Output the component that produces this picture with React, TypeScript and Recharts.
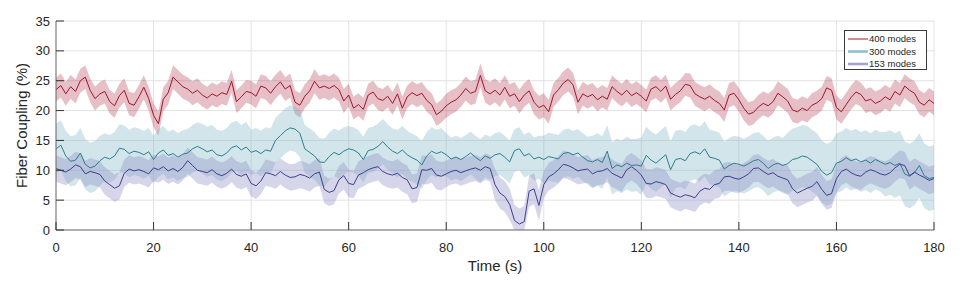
import React from 'react';
import { ComposedChart, Line, Area, XAxis, YAxis, CartesianGrid, Legend } from 'recharts';

// Mean fiber coupling (%) sampled once per second, t = 0..180 s
const modes400 = [
  23.5, 24.2, 22.8, 24.0, 23.2, 25.0, 25.6, 23.4, 22.0, 22.8,
  23.2, 21.5, 20.8, 22.5, 23.4, 21.2, 20.9, 22.3, 23.9, 22.0,
  19.2, 17.8, 21.9, 23.0, 25.6, 24.8, 24.0, 23.6, 22.9, 23.4,
  22.6, 22.1, 22.8, 22.4, 23.0, 22.7, 24.9, 21.5, 22.3, 23.2,
  23.0, 22.4, 24.1, 23.8, 22.9, 24.0, 24.8, 23.6, 24.2, 21.4,
  20.9, 22.4, 23.3, 24.9, 23.8, 24.1, 23.7, 24.2, 23.5, 21.6,
  22.6, 20.4, 21.0, 20.2, 22.6, 23.1, 22.0, 21.7, 22.4, 21.2,
  22.8, 20.4, 22.3, 23.0, 22.5, 22.9, 21.7, 21.0, 19.3, 19.9,
  20.8, 21.4, 21.8, 22.6, 23.7, 22.9, 23.2, 25.9, 23.3, 22.8,
  23.4, 22.6, 23.9, 22.4, 22.8, 21.5, 22.6, 23.3, 21.4, 20.5,
  20.9, 19.8, 22.6, 23.5, 24.6, 25.2, 24.3, 21.4, 22.8, 22.3,
  22.7, 21.8, 22.4, 21.9, 24.0, 23.2, 22.6, 23.4, 22.5, 23.0,
  22.4, 21.6, 23.6, 24.0, 23.2, 24.1, 21.9, 22.7, 23.3, 24.4,
  24.2, 22.8, 22.3, 21.9, 22.4, 21.7, 21.2, 20.1, 22.6, 22.9,
  21.8, 20.4, 19.4, 19.7, 20.6, 21.2, 20.8, 21.5, 22.9, 22.3,
  21.6, 20.1, 19.8, 20.4, 20.0, 20.9, 21.3, 22.0, 23.8, 23.4,
  20.5, 19.8, 21.0, 22.2, 23.1, 22.7, 21.6, 21.9, 21.2, 21.6,
  22.3, 21.8, 23.2, 22.6, 24.1, 23.4, 22.9, 21.4, 20.9, 21.8,
  21.2,
];

const modes300 = [
  13.6, 14.2, 12.4, 11.5, 11.7, 12.9, 11.0, 10.4, 10.7, 11.6,
  12.2, 11.9, 12.4, 13.7, 13.5, 12.8, 13.2, 13.0, 12.6, 13.1,
  11.8, 12.9, 13.4, 12.5, 12.8, 12.2, 12.7, 12.9, 13.6, 14.0,
  13.6, 13.1, 13.4, 12.6, 12.4, 12.9, 13.8, 14.1, 13.4, 13.9,
  13.0, 13.3, 12.8, 13.4, 13.2, 15.0, 15.8, 16.6, 17.1, 16.9,
  16.2, 13.6, 13.0, 12.4, 11.4, 11.3, 12.3, 13.0, 12.6, 13.2,
  13.6, 13.4, 12.9, 11.8, 13.3, 13.5, 14.0, 14.8, 13.9, 13.2,
  12.8, 13.4, 12.6, 12.1, 11.7, 10.9, 12.4, 13.2, 12.8, 13.1,
  12.6, 11.9, 12.2, 11.8, 12.3, 12.9, 12.2, 11.6, 12.4, 12.0,
  12.6, 12.8, 12.2, 11.4, 13.3, 13.6, 12.4, 12.8, 11.9, 12.2,
  11.8, 12.3, 12.1, 11.9, 12.8, 13.0, 12.6, 12.9, 12.2, 11.6,
  11.4, 11.8, 11.3, 13.2, 10.3, 10.9, 10.6, 11.2, 10.8, 10.9,
  10.7, 12.5, 11.7, 11.2, 11.9, 12.6, 10.1, 11.8, 12.0, 11.6,
  12.8, 13.1, 12.7, 13.6, 12.2, 12.0, 11.7, 10.2, 10.8, 11.2,
  11.0, 10.7, 11.1, 11.6, 11.8, 11.2, 10.3, 10.9, 11.2, 10.8,
  11.1, 11.8, 12.0, 12.4, 12.2, 11.6, 11.0, 9.8, 9.2, 9.6,
  11.2, 11.5, 12.1, 11.6, 11.9, 11.4, 11.7, 11.2, 11.8, 11.4,
  11.0, 11.3, 10.8, 11.2, 9.4, 9.0, 9.6, 10.8, 9.1, 8.6,
  8.8,
];

const modes153 = [
  10.3, 10.0, 9.7, 10.2, 10.9, 10.6, 9.4, 9.8, 9.6, 9.3,
  8.2, 7.6, 7.0, 7.4, 9.5, 10.2, 9.9, 10.1, 9.8, 9.4,
  10.4, 10.1, 10.6, 9.9, 10.3, 9.8, 10.5, 11.6, 10.8, 10.0,
  9.8, 9.6, 10.1, 9.4, 9.1, 9.5, 10.2, 9.3, 9.0, 9.4,
  7.8, 7.4, 8.2, 9.6, 9.4, 9.1, 9.8, 9.2, 8.8, 8.9,
  9.3, 9.1, 8.7, 9.4, 9.7, 6.8, 6.3, 6.6, 8.4, 9.1,
  7.8, 7.6, 9.2, 9.6, 10.1, 10.4, 10.6, 9.8, 9.4, 9.2,
  9.5, 8.8, 8.4, 6.9, 7.1, 10.1, 10.0, 10.3, 9.2, 9.0,
  9.4, 9.8, 10.0, 9.6, 9.9, 10.2, 10.4, 10.0, 10.6, 10.3,
  7.6, 6.2, 5.6, 4.3, 1.6, 1.0, 1.4, 6.5, 6.9, 4.1,
  7.6, 8.9, 9.4, 10.1, 11.0, 10.8, 10.4, 9.9, 10.1, 10.2,
  9.4, 9.8, 9.9, 10.3, 9.5, 9.1, 8.7, 10.1, 10.6, 10.0,
  9.2, 7.8, 7.7, 8.1, 7.9, 7.6, 6.2, 5.8, 5.5, 5.9,
  5.7, 5.4, 6.5, 7.0, 6.8, 7.6, 7.8, 8.9, 9.0, 8.7,
  8.5, 8.9, 9.4, 10.3, 10.4, 9.8, 9.3, 9.6, 9.0, 8.7,
  8.4, 6.9, 6.2, 6.6, 7.0, 7.3, 8.1, 6.8, 5.8, 6.1,
  8.6, 9.8, 10.2, 9.6, 9.2, 9.0, 9.7, 10.1, 9.8, 9.4,
  9.2, 9.6, 10.4, 11.0, 10.8, 9.1, 9.7, 9.2, 8.8, 8.3,
  8.6,
];

// Half-width of the shaded spread, one value per 10 s segment
const spread400 = [2.0, 2.0, 2.0, 1.9, 2.0, 2.0, 1.9, 1.9, 2.0, 2.0, 2.0, 1.9, 1.9, 2.0, 2.0, 2.0, 2.0, 2.0, 2.0];
const spread300 = [4.2, 4.0, 4.0, 4.2, 3.8, 4.0, 3.8, 4.0, 3.6, 3.6, 4.0, 4.4, 4.8, 4.6, 4.6, 5.2, 5.0, 5.4, 5.4];
const spread153 = [2.2, 2.3, 2.2, 2.2, 2.2, 2.3, 2.3, 2.4, 2.2, 2.6, 2.3, 2.3, 2.4, 2.4, 2.3, 2.4, 2.3, 2.3, 2.3];

const xTicks = [0, 20, 40, 60, 80, 100, 120, 140, 160, 180];
const yTicks = [0, 5, 10, 15, 20, 25, 30, 35];
const seriesNames = ['400 modes', '300 modes', '153 modes'];

const data = modes400.map((v, i) => {
  const s = Math.floor(i / 10);
  const a = modes300[i];
  const b = modes153[i];
  return {
    t: i,
    m400: v,
    m300: a,
    m153: b,
    b400: [v - spread400[s], v + spread400[s]],
    b300: [a - spread300[s], a + spread300[s]],
    b153: [Math.max(0, b - spread153[s]), b + spread153[s]],
  };
});

const FONT = '"Liberation Sans", Arial, Helvetica, sans-serif';
const AXIS = '#6f6f6f';
const TICKC = '#333333';
const TXT = '#262626';
const TL = 8;
const BM = 13;
const LM = 6;

const RED = '#A2142F';
const TEAL = '#2B7F8C';
const TEAL_BAND = '#7FB6C4';
const BLUE = '#3E3E8E';
const BLUE_BAND = '#8C8CC6';

const BottomTick = (p: any) => {
  const { x, y, payload } = p;
  return (
    <g>
      <line x1={x} x2={x} y1={y - BM} y2={y - BM - TL} stroke={TICKC} strokeWidth={1} />
      <text x={x} y={y} dy="0.71em" textAnchor="middle" fontSize={13} fontFamily={FONT} fill={TXT}>
        {payload.value}
      </text>
    </g>
  );
};

const TopTick = (p: any) => {
  const { x, y } = p;
  return <line x1={x} x2={x} y1={y} y2={y + TL} stroke={TICKC} strokeWidth={1} />;
};

const LeftTick = (p: any) => {
  const { x, y, payload } = p;
  return (
    <g>
      <line x1={x + LM} x2={x + LM + TL} y1={y} y2={y} stroke={TICKC} strokeWidth={1} />
      <text x={x} y={y} dy="0.35em" textAnchor="end" fontSize={13} fontFamily={FONT} fill={TXT}>
        {payload.value}
      </text>
    </g>
  );
};

const RightTick = (p: any) => {
  const { x, y } = p;
  return <line x1={x} x2={x - TL} y1={y} y2={y} stroke={TICKC} strokeWidth={1} />;
};

const XLabel = (p: any) => {
  const vb = p.viewBox || {};
  return (
    <text x={vb.x + vb.width / 2} y={vb.y + 41} textAnchor="middle" fontSize={15} fontFamily={FONT} fill={TXT}>
      Time (s)
    </text>
  );
};

const YLabel = (p: any) => {
  const vb = p.viewBox || {};
  const cx = vb.x + vb.width - 29;
  const cy = vb.y + vb.height / 2;
  return (
    <text x={cx} y={cy} transform={`rotate(-90, ${cx}, ${cy})`} textAnchor="middle" fontSize={15} fontFamily={FONT} fill={TXT}>
      Fiber Coupling (%)
    </text>
  );
};

const legendColors = [
  { color: RED, w: 1 },
  { color: '#8DBDC9', w: 2.5 },
  { color: '#A3A3D2', w: 2.5 },
];

const LegendBox = () => (
  <svg width={83} height={40} style={{ display: 'block' }}>
    <rect x={0.5} y={0.5} width={82} height={39} fill="#ffffff" stroke="#3a3a3a" strokeWidth={1} />
    {seriesNames.map((name, i) => (
      <g key={name}>
        <line x1={4} x2={24} y1={9 + i * 12.5} y2={9 + i * 12.5} stroke={legendColors[i].color} strokeWidth={legendColors[i].w} />
        <text x={25} y={9 + i * 12.5} dy="0.35em" fontSize={9.5} fontFamily={FONT} fill={TXT}>
          {name}
        </text>
      </g>
    ))}
  </svg>
);

export default function App() {
  return (
    <div style={{ width: 950, height: 268, position: 'relative' }}>
      <ComposedChart width={950} height={268} data={data} margin={{ top: 13, right: 24, bottom: 6, left: 10 }}>
        <CartesianGrid stroke="#e2e2e2" strokeWidth={1} />
        <XAxis
          dataKey="t"
          type="number"
          domain={[0, 180]}
          ticks={xTicks}
          interval={0}
          height={40}
          tickSize={0}
          tickMargin={BM}
          tickLine={false}
          axisLine={{ stroke: AXIS }}
          tick={<BottomTick />}
          label={<XLabel />}
        />
        <XAxis
          xAxisId="top"
          orientation="top"
          dataKey="t"
          type="number"
          domain={[0, 180]}
          ticks={xTicks}
          interval={0}
          height={0}
          tickSize={0}
          tickMargin={0}
          tickLine={false}
          axisLine={{ stroke: AXIS }}
          tick={<TopTick />}
        />
        <YAxis
          type="number"
          domain={[0, 35]}
          ticks={yTicks}
          interval={0}
          width={38}
          tickSize={0}
          tickMargin={LM}
          tickLine={false}
          axisLine={{ stroke: AXIS }}
          tick={<LeftTick />}
          label={<YLabel />}
        />
        <YAxis
          yAxisId="right"
          orientation="right"
          type="number"
          domain={[0, 35]}
          ticks={yTicks}
          interval={0}
          width={0}
          tickSize={0}
          tickMargin={0}
          tickLine={false}
          axisLine={{ stroke: AXIS }}
          tick={<RightTick />}
        />
        <Area type="linear" dataKey="b400" stroke="none" fill={RED} fillOpacity={0.27} isAnimationActive={false} legendType="none" />
        <Area type="linear" dataKey="b300" stroke="none" fill={TEAL_BAND} fillOpacity={0.36} isAnimationActive={false} legendType="none" />
        <Area type="linear" dataKey="b153" stroke="none" fill={BLUE_BAND} fillOpacity={0.36} isAnimationActive={false} legendType="none" />
        <Line type="linear" dataKey="m400" name={seriesNames[0]} stroke={RED} strokeWidth={1} dot={false} isAnimationActive={false} />
        <Line type="linear" dataKey="m300" name={seriesNames[1]} stroke={TEAL} strokeWidth={1} dot={false} isAnimationActive={false} />
        <Line type="linear" dataKey="m153" name={seriesNames[2]} stroke={BLUE} strokeWidth={1} dot={false} isAnimationActive={false} />
        <Legend
          layout="horizontal"
          verticalAlign="middle"
          align="center"
          wrapperStyle={{ position: 'absolute', left: 836, top: 22, width: 83, height: 40 }}
          content={<LegendBox />}
        />
      </ComposedChart>
    </div>
  );
}
